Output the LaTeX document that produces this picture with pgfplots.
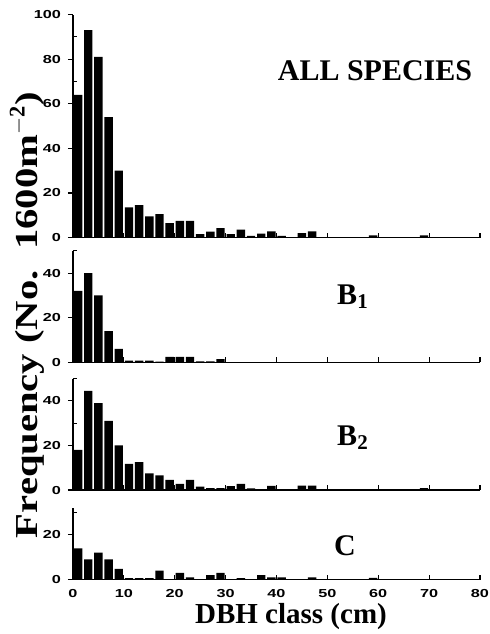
\documentclass[border=0pt]{standalone}
\usepackage{fontspec}
\setmainfont{Liberation Serif}
\newfontfamily\tickfont[FakeStretch=1.4]{Liberation Sans}
\newfontfamily\ylabfont[FakeStretch=1.27]{Liberation Serif}
\usepackage{pgfplots}
\pgfplotsset{compat=1.18}

\pgfplotsset{
  panel/.style={
    scale only axis, width=203.5pt,
    xmin=0, xmax=80, ymin=0,
    axis x line=bottom, axis y line=left,
    axis line style={-, line width=0.8pt},
    xtick={0,10,...,80}, xticklabels={},
    tick align=outside,
    major tick length=2.5pt, minor tick length=2pt,
    every major x tick/.append style={yshift=2.5pt},
    every minor y tick/.append style={xshift=2pt},
    tick style={line width=0.6pt, black},
    ticklabel style={font=\tickfont\bfseries\fontsize{5.8}{6.5}\selectfont},
    xticklabel style={yshift=1pt},
    /pgf/number format/assume math mode=true,
    ybar, bar width=1.65,
    anchor=south west,
    clip=false,
  },
  bars/.style={fill=black, draw=none},
}

\begin{document}
\begin{tikzpicture}
\useasboundingbox (-36.5pt,-317pt) rectangle (208.5pt,0pt);

% ALL SPECIES
\begin{axis}[panel, at={(0pt,-118.75pt)}, height=111.5pt, ymax=100,
  ytick={0,20,...,100}, minor ytick={10,30,...,90}]
\addplot[bars] coordinates {
  (1,64) (3,93) (5,81) (7,54) (9,30) (11,13.5) (13,14.5) (15,9.5) (17,10.5)
  (19,6.5) (21,7.5) (23,7.5) (25,1.5) (27,2.6) (29,4.2) (31,1.5) (33,3.5)
  (35,0.7) (37,1.7) (39,2.7) (41,0.7) (45,2) (47,2.8) (59,1) (69,1)
};
\end{axis}

% B1
\begin{axis}[panel, at={(0pt,-181.15pt)}, height=55.75pt, ymax=50,
  ytick={0,20,40}, minor ytick={10,30,50}]
\addplot[bars] coordinates {
  (1,32) (3,40) (5,30) (7,14) (9,6) (11,0.8) (13,0.8) (15,0.8) (17,0.3)
  (19,2.4) (21,2.4) (23,2.4) (25,0.4) (27,0.4) (29,1.4)
};
\end{axis}

% B2
\begin{axis}[panel, at={(0pt,-245pt)}, height=55.75pt, ymax=50,
  ytick={0,20,40}, minor ytick={10,30,50}]
\addplot[bars] coordinates {
  (1,18) (3,44.5) (5,39) (7,31) (9,20) (11,11.7) (13,12.5) (15,7.5) (17,6.6)
  (19,4.5) (21,2.8) (23,4.5) (25,1.5) (27,0.8) (29,0.8) (31,1.7) (33,2.8)
  (35,0.7) (39,1.8) (45,2) (47,2) (59,0.3) (69,0.8)
};
\end{axis}

% C
\begin{axis}[panel, at={(0pt,-289.75pt)}, height=35.7pt, ymax=32,
  ytick={0,20}, minor ytick={10,30},
  xticklabels={0,10,20,30,40,50,60,70,80}]
\addplot[bars] coordinates {
  (1,14) (3,9) (5,12) (7,9) (9,4.8) (11,0.6) (13,0.6) (15,0.6) (17,4)
  (21,3) (23,1) (27,2) (29,3) (33,0.6) (37,2) (39,1) (41,1) (47,1) (59,0.7)
};
\end{axis}

\node[font=\bfseries\fontsize{15}{18}\selectfont] at (151pt,-35.5pt) {ALL SPECIES};
\node[font=\bfseries\fontsize{15}{18}\selectfont] at (140pt,-148.5pt) {B$_{\mathbf{1}}$};
\node[font=\bfseries\fontsize{15}{18}\selectfont] at (140pt,-219pt) {B$_{\mathbf{2}}$};
\node[font=\bfseries\fontsize{15}{18}\selectfont] at (136pt,-273pt) {C};
\node[font=\bfseries\fontsize{14.5}{17}\selectfont] at (109pt,-308.5pt) {DBH class (cm)};
\node[font=\ylabfont\bfseries\fontsize{16}{18}\selectfont, rotate=90] at (-23pt,-157.5pt)
  {Frequency (No.\ \ 1600m$^{\mathbf{-2}}$)};
\end{tikzpicture}
\end{document}
